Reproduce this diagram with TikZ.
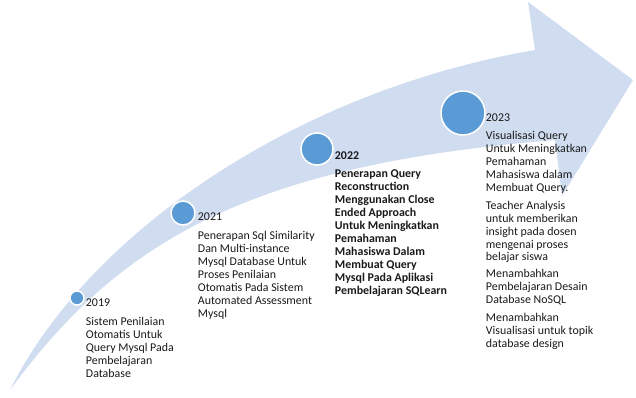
\documentclass[tikz,border=0pt]{standalone}
\usepackage{fontspec}
\setmainfont{Carlito}
\usepackage{xcolor}
\usepackage{tikz}
\usetikzlibrary{positioning, calc}

\definecolor{arrowfill}{RGB}{208,221,240}
\definecolor{dotblue}{RGB}{91,155,213}
\definecolor{txt}{RGB}{25,25,25}

\tikzset{
  dot/.style={circle, fill=dotblue, draw=white, line width=1.5pt, inner sep=0pt},
  milestone/.style={anchor=north west, inner sep=0pt, align=left, text=txt,
    font=\fontsize{11.9}{12.9}\selectfont},
}

\begin{document}
\begin{tikzpicture}[x=1pt, y=-1pt]
  \useasboundingbox (0,0) rectangle (636,397);

  % Arrow outline
  \coordinate (tail) at (10,390);
  \coordinate (top) at (535,50);
  \coordinate (headtop) at (528,2);
  \coordinate (tip) at (633,80);
  \coordinate (headlow) at (562,196);
  \coordinate (low) at (555,140);

  % Draw arrow
  \fill[arrowfill] (tail) .. controls (90,230) and (300,90) .. (top)
    -- (headtop) -- (tip) -- (headlow) -- (low)
    .. controls (250,165) and (120,240) .. (tail) -- cycle;

  % Milestone dots
  \node[dot, minimum size=14pt] (c19) at (77,298) {};
  \node[dot, minimum size=24pt] (c21) at (183,213) {};
  \node[dot, minimum size=32pt] (c22) at (317,149) {};
  \node[dot, minimum size=44pt] (c23) at (463,113) {};

  % Labels
  \node[milestone] (t19) at ($(c19.east)+(1,1)$) {2019\\[6pt]
    Sistem Penilaian\\ Otomatis Untuk\\ Query Mysql Pada\\ Pembelajaran\\ Database};
  \node[milestone] (t21) at ($(c21.east)+(2,0)$) {2021\\[6pt]
    Penerapan Sql Similarity\\ Dan Multi-instance\\ Mysql Database Untuk\\
    Proses Penilaian\\ Otomatis Pada Sistem\\ Automated Assessment\\ Mysql};
  \node[milestone, font=\fontsize{11.9}{12.9}\selectfont\bfseries] (t22) at ($(c22.east)+(1,2)$) {2022\\[6pt]
    Penerapan Query\\ Reconstruction\\ Menggunakan Close\\ Ended Approach\\
    Untuk Meningkatkan\\ Pemahaman\\ Mahasiswa Dalam\\ Membuat Query\\
    Mysql Pada Aplikasi\\ Pembelajaran SQLearn};
  \node[milestone] (t23) at ($(c23.east)+(0,1)$) {2023\\[5pt]
    Visualisasi Query\\ Untuk Meningkatkan\\ Pemahaman\\ Mahasiswa dalam\\
    Membuat Query.\\[5pt]
    Teacher Analysis\\ untuk memberikan\\ insight pada dosen\\ mengenai proses\\
    belajar siswa\\[4pt]
    Menambahkan\\ Pembelajaran Desain\\ Database NoSQL\\[5pt]
    Menambahkan\\ Visualisasi untuk topik\\ database design};
\end{tikzpicture}
\end{document}
